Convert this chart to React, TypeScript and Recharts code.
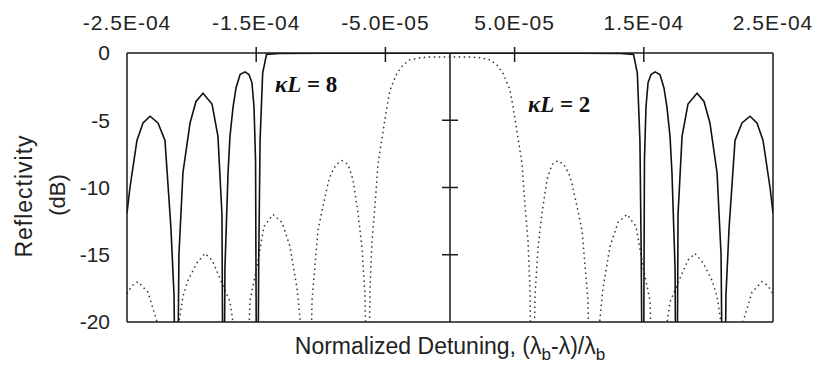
import { LineChart, Line, XAxis, YAxis, ReferenceLine } from "recharts";

// detuning in units of 1E-5, reflectivity in dB
const detuning8 = [
  -25, -24.77, -24.23, -23.76, -23.22, -22.6, -22.06, -21.6, -21.36, -21.17, -20.98, -20.67, -20.12, -19.66,
  -19.12, -18.42, -17.96, -17.65, -17.53, -17.42, -17.18, -17.03, -16.79, -16.56, -16.25, -15.87, -15.56,
  -15.33, -15.17, -15.05, -14.94, -14.8, -14.7, -14.5, -14.2, -13.2, -10, -5, 0, 5, 10, 13.2, 14.2, 14.5,
  14.7, 14.8, 14.94, 15.05, 15.17, 15.33, 15.56, 15.87, 16.25, 16.56, 16.79, 17.03, 17.18, 17.42, 17.53,
  17.65, 17.96, 18.42, 19.12, 19.66, 20.12, 20.67, 20.98, 21.17, 21.36, 21.6, 22.06, 22.6, 23.22, 23.76,
  24.23, 24.77, 25,
];
const refl8 = [
  -11.9, -10, -6.5, -5.2, -4.7, -5.2, -6.5, -13, -18, -35, -15, -8.9, -5.2, -3.6,
  -3.0, -3.8, -6.2, -12, -35, -16, -8.9, -6.2, -4, -2.6, -1.6, -1.4, -1.6,
  -2.2, -4, -8, -35, -15, -6.5, -1.5, -0.1, -0.03, -0.02, -0.01, -0.01, -0.01, -0.02, -0.03, -0.1, -1.5,
  -6.5, -15, -35, -8, -4, -2.2, -1.6, -1.4, -1.6, -2.6, -4, -6.2, -8.9, -16, -35,
  -12, -6.2, -3.8, -3.0, -3.6, -5.2, -8.9, -15, -35, -18, -13, -6.5, -5.2, -4.7, -5.2,
  -6.5, -10, -11.9,
];

const detuning2 = [
  -25, -24.61, -24.15, -23.37, -22.83, -22.06, -21.36, -21.05, -20.67, -20.28, -19.58, -18.96, -18.42,
  -17.96, -17.03, -16.5, -15.87, -15.48, -14.94, -14.4, -13.7, -13.0, -12.38, -11.84, -11.38, -10.91,
  -10.68, -10.22, -9.83, -9.44, -9.21, -8.82, -8.36, -7.89, -7.51, -7.12, -6.81, -6.58, -6.35, -6.19,
  -6.04, -5.81, -5.57, -5.34, -5.11, -4.88, -4.64, -4.41, -4.1, -3.64, -3.1, -2.32, -1.55, 0, 1.55, 2.32,
  3.1, 3.64, 4.1, 4.41, 4.64, 4.88, 5.11, 5.34, 5.57, 5.81, 6.04, 6.19, 6.35, 6.58, 6.81, 7.12, 7.51,
  7.89, 8.36, 8.82, 9.21, 9.44, 9.83, 10.22, 10.68, 10.91, 11.38, 11.84, 12.38, 13.0, 13.7, 14.4, 14.94,
  15.48, 15.87, 16.5, 17.03, 17.96, 18.42, 18.96, 19.58, 20.28, 20.67, 21.05, 21.36, 22.06, 22.83,
  23.37, 24.15, 24.61, 25,
];
const refl2 = [
  -17.9, -17.3, -17.0, -17.8, -19.5, -22, -30, -20.5, -18.1, -16.9, -15.6, -14.9, -15.4,
  -16.4, -18.5, -22, -30, -18.4, -15.9, -12.9, -12.0, -12.6, -14.4, -17.5, -22, -30,
  -18.4, -13.2, -11.4, -9.7, -9.0, -8.3, -8.0, -8.3, -9.4, -11.9, -14.5, -18, -30, -17.5,
  -14, -11.4, -8.2, -6.8, -5.4, -4, -2.75, -2.2, -1.5, -0.9, -0.5, -0.35, -0.3, -0.3, -0.3, -0.35,
  -0.5, -0.9, -1.5, -2.2, -2.75, -4, -5.4, -6.8, -8.2, -11.4, -14, -17.5, -30, -18, -14.5, -11.9, -9.4,
  -8.3, -8.0, -8.3, -9.0, -9.7, -11.4, -13.2, -18.4, -30, -22, -17.5, -14.4, -12.6, -12.0, -12.9, -15.9,
  -18.4, -30, -22, -18.5, -16.4, -15.4, -14.9, -15.6, -16.9, -18.1, -20.5, -30, -22, -19.5,
  -17.8, -17.0, -17.3, -17.9,
];

const xTicks = [-25, -15, -5, 5, 15, 25];
const yTicks = [0, -5, -10, -15, -20];
const innerTicks = [-5, -10, -15];

const k8Data = detuning8.map((x, i) => ({ x, r: refl8[i] }));
const k2Data = detuning2.map((x, i) => ({ x, r: refl2[i] }));

const fmtE = (v: number) => {
  const [m, e] = (v * 1e-5).toExponential(1).split("e");
  const neg = e[0] === "-";
  const digits = e.replace(/[-+]/, "").padStart(2, "0");
  return `${m}E${neg ? "-" : ""}${digits}`;
};

const sans = "'Liberation Sans', Arial, sans-serif";
const serif = "'Liberation Serif', 'Times New Roman', serif";
const ink = "#1a1a1a";

const App = () => {
  return (
    <div style={{ position: "absolute", left: 0, top: 0, width: 821, height: 369, background: "#fff" }}>
      <LineChart
        width={821}
        height={369}
        margin={{ top: 13, right: 48, bottom: 47, left: 67 }}
      >
        <XAxis
          orientation="top"
          type="number"
          dataKey="x"
          domain={[-25, 25]}
          ticks={xTicks}
          allowDataOverflow
          tickFormatter={fmtE}
          tickLine={false}
          tickSize={0}
          tickMargin={23}
          height={40}
          axisLine={{ stroke: ink, strokeWidth: 1.5 }}
          tick={{ fontSize: 21, fill: "#222", fontFamily: sans, letterSpacing: 1 }}
        />
        <YAxis
          type="number"
          domain={[-20, 0]}
          ticks={yTicks}
          allowDataOverflow
          tickLine={false}
          tickSize={0}
          tickMargin={17}
          width={60}
          axisLine={{ stroke: ink, strokeWidth: 1.5 }}
          tick={{ fontSize: 21, fill: "#222", fontFamily: sans }}
        />
        <ReferenceLine y={-20} stroke={ink} strokeWidth={1.5} />
        <ReferenceLine x={25} stroke={ink} strokeWidth={1.5} />
        <ReferenceLine x={0} stroke={ink} strokeWidth={1.5} />
        {xTicks.slice(1, -1).map((t) => (
          <ReferenceLine
            key={"tx" + t}
            segment={[{ x: t, y: 0.45 }, { x: t, y: -0.67 }]}
            stroke={ink}
            strokeWidth={1.5}
            ifOverflow="visible"
          />
        ))}
        {innerTicks.map((t) => (
          <ReferenceLine
            key={"ty" + t}
            segment={[{ x: -0.62, y: t }, { x: 0.62, y: t }]}
            stroke={ink}
            strokeWidth={1.5}
          />
        ))}
        <Line
          data={k2Data}
          dataKey="r"
          type="linear"
          dot={false}
          stroke="#333"
          strokeWidth={1.5}
          strokeDasharray="1.5 3.5"
          isAnimationActive={false}
        />
        <Line
          data={k8Data}
          dataKey="r"
          type="linear"
          dot={false}
          stroke="#111"
          strokeWidth={1.6}
          isAnimationActive={false}
        />
      </LineChart>

      <div
        style={{
          position: "absolute",
          left: 24,
          top: 196,
          transform: "translate(-50%, -50%) rotate(-90deg)",
          fontFamily: sans,
          fontSize: 23,
          letterSpacing: 1,
          color: "#222",
          whiteSpace: "nowrap",
        }}
      >
        Reflectivity
      </div>
      <div
        style={{
          position: "absolute",
          left: 58,
          top: 195,
          transform: "translate(-50%, -50%) rotate(-90deg)",
          fontFamily: sans,
          fontSize: 22,
          color: "#222",
          whiteSpace: "nowrap",
        }}
      >
        (dB)
      </div>
      <div
        style={{
          position: "absolute",
          left: 450,
          top: 349,
          transform: "translate(-50%, -50%)",
          fontFamily: sans,
          fontSize: 23,
          color: "#222",
          whiteSpace: "nowrap",
        }}
      >
        Normalized Detuning, (λ<sub style={{ fontSize: 17 }}>b</sub>-λ)/λ<sub style={{ fontSize: 17 }}>b</sub>
      </div>
      <div
        style={{
          position: "absolute",
          left: 275,
          top: 85,
          transform: "translateY(-50%)",
          fontFamily: serif,
          fontWeight: "bold",
          fontSize: 23,
          color: "#111",
          whiteSpace: "nowrap",
        }}
      >
        <i>κL</i> = 8
      </div>
      <div
        style={{
          position: "absolute",
          left: 528,
          top: 105,
          transform: "translateY(-50%)",
          fontFamily: serif,
          fontWeight: "bold",
          fontSize: 23,
          color: "#111",
          whiteSpace: "nowrap",
        }}
      >
        <i>κL</i> = 2
      </div>
    </div>
  );
};

export default App;
